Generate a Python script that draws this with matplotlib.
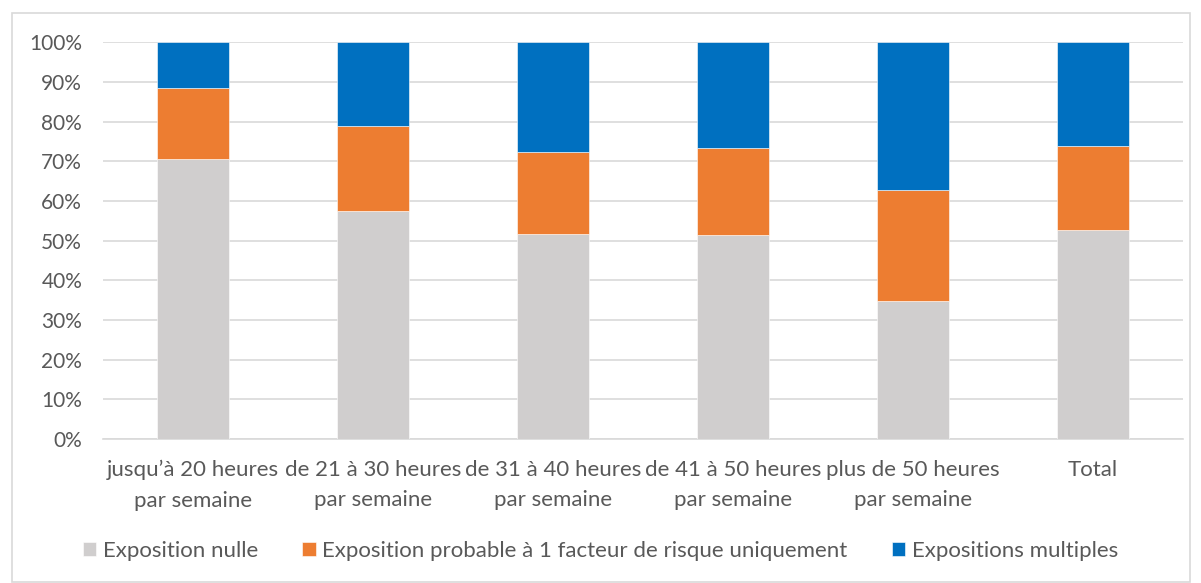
import matplotlib.pyplot as plt
from matplotlib.patches import Rectangle
from matplotlib.ticker import PercentFormatter
import numpy as np

categories = ["jusqu\u2019\u00e0 20 heures\npar semaine", "de 21 \u00e0 30 heures\npar semaine",
              "de 31 \u00e0 40 heures\npar semaine", "de 41 \u00e0 50 heures\npar semaine",
              "plus de 50 heures\npar semaine", "Total"]
nulle = [70.5, 57.6, 51.7, 51.4, 34.8, 52.7]
probable = [18.1, 21.4, 20.7, 21.9, 27.9, 21.2]
multiples = [11.4, 21.0, 27.6, 26.7, 37.3, 26.1]

series = ["Exposition nulle", "Exposition probable \u00e0 1 facteur de risque uniquement",
          "Expositions multiples"]
colors = ["#d0cece", "#ed7d31", "#0070c0"]

plt.rcParams['font.family'] = ['Lato', 'DejaVu Sans']
txt = "#595959"

fig = plt.figure(figsize=(12.01, 5.83), dpi=100)
ax = fig.add_axes([103/1201, 1-439/583, 1080/1201, (439-42.3)/583])

x = np.arange(len(categories))
bottom = np.zeros(len(categories))
for vals, lab, col in zip([nulle, probable, multiples], series, colors):
    ax.bar(x, vals, 0.4, bottom=bottom, color=col, label=lab, zorder=3,
           edgecolor="white", linewidth=0.4)
    bottom += np.array(vals)

ax.set_xlim(-0.5, len(categories) - 0.5)
ax.set_ylim(0, 100)
ax.set_yticks(np.arange(0, 101, 10))
ax.yaxis.set_major_formatter(PercentFormatter(decimals=0))
ax.grid(axis="y", color="#d9d9d9", linewidth=1.2, zorder=0)
ax.set_xticks(x)
ax.set_xticklabels(categories, fontsize=16, color=txt, linespacing=1.65)
ax.tick_params(axis="y", labelsize=15, labelcolor=txt, length=0, pad=15)
ax.tick_params(axis="x", length=0, pad=15)
for s in ["top", "right", "left"]:
    ax.spines[s].set_visible(False)
ax.spines["bottom"].set_color("#d9d9d9")
ax.spines["bottom"].set_linewidth(1.2)

leg = fig.legend(loc="center", bbox_to_anchor=(0.5, 1-551/583), ncol=3, frameon=False,
                 fontsize=16, handlelength=0.6, handleheight=0.6, handletextpad=0.3,
                 columnspacing=2.0)
for t in leg.get_texts():
    t.set_color(txt)

fig.patches.append(Rectangle((12/1201, 0.002), 1178/1201, 1-14/583, transform=fig.transFigure,
                             fill=False, edgecolor="#d9d9d9", linewidth=1.2))

fig.savefig("out.png", dpi=100)
